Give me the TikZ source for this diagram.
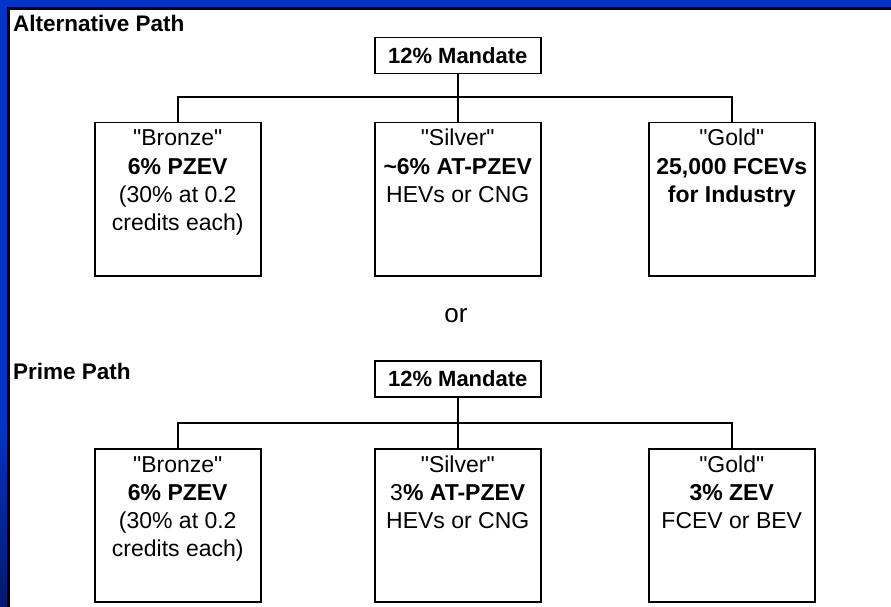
\documentclass[tikz,border=0pt]{standalone}
\usepackage{fontspec}
\setmainfont{Liberation Sans}[Ligatures=TeXOff]
\definecolor{bandblue}{HTML}{0033CC}
\definecolor{navyblue}{HTML}{001870}
\begin{document}
\begin{tikzpicture}[x=1pt,y=-1pt,
  box/.style={draw=black, line width=1.5pt, minimum width=166pt, minimum height=153pt, inner sep=0pt, anchor=north west},
  mandate/.style={draw=black, line width=1.5pt, minimum width=166pt, minimum height=36pt, inner sep=0pt, anchor=north west, font=\fontsize{22}{26}\selectfont\bfseries},
  conn/.style={line width=1.5pt, line join=miter},
  trunk/.style={line width=2.5pt},
  boxtext/.style={anchor=base, inner sep=0pt, font=\fontsize{23}{28.3}\selectfont},
  header/.style={anchor=base west, inner sep=0pt, font=\fontsize{22.5}{27}\selectfont\bfseries}
]
\useasboundingbox (0,0) rectangle (891,607);
\fill[white] (0,0) rectangle (891,607);
% frame
\fill[bandblue] (0,0) rectangle (891,7);
\fill[bandblue] (0,0) rectangle (7,420);
\shade[top color=bandblue, bottom color=navyblue] (0,420) rectangle (7,607);
\fill[black] (7,7) rectangle (891,10);
\fill[black] (7,7) rectangle (10,607);

% headers
\node[header] (alt) at (13,32) {Alternative Path};
\node[header] (prime) at (13,379) {Prime Path};
\node[anchor=base, inner sep=0pt, font=\fontsize{26}{30}\selectfont] (or) at (456,322) {or};

% upper tree
\node[mandate] (m1) at (374,37) {12\% Mandate};
\node[box] (b1) at (94,122) {};
\node[box] (b2) at (374,122) {};
\node[box] (b3) at (648,122) {};
\coordinate (j1) at (457,97);
\node[boxtext] (b1t) at ([yshift=-24pt]b1.north) {\begin{tabular}[t]{@{}c@{}}"Bronze"\\ \textbf{6\% PZEV}\\ (30\% at 0.2\\ credits each)\end{tabular}};
\node[boxtext] (b2t) at ([yshift=-24pt]b2.north) {\begin{tabular}[t]{@{}c@{}}"Silver"\\ \textbf{\textasciitilde 6\% AT-PZEV}\\ HEVs or CNG\end{tabular}};
\node[boxtext] (b3t) at ([yshift=-24pt]b3.north) {\begin{tabular}[t]{@{}c@{}}"Gold"\\ \textbf{25,000 FCEVs}\\ \textbf{for Industry}\end{tabular}};
\draw[trunk] (m1.south) -- (m1.south |- j1);
\draw[conn] (b1.north) -- (b1.north |- j1) -- (b3.north |- j1) -- (b3.north);
\draw[conn] (b2.north |- j1) -- (b2.north);

% lower tree
\node[mandate] (m2) at (374,360) {12\% Mandate};
\node[box] (b4) at (94,448) {};
\node[box] (b5) at (374,448) {};
\node[box] (b6) at (648,448) {};
\coordinate (j2) at (457,423);
\node[boxtext] (b4t) at ([yshift=-24pt]b4.north) {\begin{tabular}[t]{@{}c@{}}"Bronze"\\ \textbf{6\% PZEV}\\ (30\% at 0.2\\ credits each)\end{tabular}};
\node[boxtext] (b5t) at ([yshift=-24pt]b5.north) {\begin{tabular}[t]{@{}c@{}}"Silver"\\ 3\textbf{\% AT-PZEV}\\ HEVs or CNG\end{tabular}};
\node[boxtext] (b6t) at ([yshift=-24pt]b6.north) {\begin{tabular}[t]{@{}c@{}}"Gold"\\ \textbf{3\% ZEV}\\ FCEV or BEV\end{tabular}};
\draw[trunk] (m2.south) -- (m2.south |- j2);
\draw[conn] (b4.north) -- (b4.north |- j2) -- (b6.north |- j2) -- (b6.north);
\draw[conn] (b5.north |- j2) -- (b5.north);
\end{tikzpicture}
\end{document}
